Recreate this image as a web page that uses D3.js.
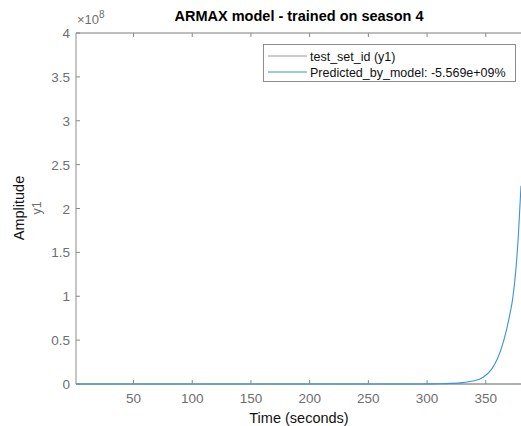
<!DOCTYPE html>
<html><head><meta charset="utf-8">
<script src="https://cdn.jsdelivr.net/npm/d3@7"></script>
<style>body{margin:0;background:#fff}svg{display:block}text{font-family:"Liberation Sans",Arial,sans-serif}</style>
</head><body>
<svg id="c" width="521" height="426"></svg>
<script>
const times = [1, 50, 100, 150, 200, 250, 300, 310, 320, 330, 335, 340, 345, 350, 355, 360, 365, 370, 373, 376, 378, 380];
const predicted = [0, 0, 0, 0, 0, 0, 0.001, 0.003, 0.007, 0.016, 0.025, 0.038, 0.058, 0.1, 0.17, 0.29, 0.48, 0.76, 0.98, 1.36, 1.75, 2.26]; // x 1e8
const measured = [0, 0, 0, 0, 0, 0, 0, 0, 0, 0, 0, 0, 0, 0, 0, 0, 0, 0, 0, 0, 0, 0];
const xTicks = [50, 100, 150, 200, 250, 300, 350];
const yTicks = [0, 0.5, 1, 1.5, 2, 2.5, 3, 3.5, 4];
const legendLabels = ["test_set_id (y1)", "Predicted_by_model: -5.569e+09%"];

const svg = d3.select("#c");
const L = 76, R = 521, T = 33, B = 384;
const x = d3.scaleLinear().domain([1, 380]).range([L, R]);
const y = d3.scaleLinear().domain([0, 4]).range([B, T]);
const axisCol = "#a8a8a8", tickText = "#6e6e6e";

svg.append("line").attr("x1", L).attr("x2", R + 2).attr("y1", B).attr("y2", B).attr("stroke", axisCol).attr("stroke-width", 1.3);
svg.append("line").attr("x1", L).attr("x2", R + 2).attr("y1", T).attr("y2", T).attr("stroke", axisCol).attr("stroke-width", 1.3);
svg.append("line").attr("x1", L).attr("x2", L).attr("y1", T).attr("y2", B).attr("stroke", axisCol).attr("stroke-width", 1.3);

xTicks.forEach(t => {
  svg.append("line").attr("x1", x(t)).attr("x2", x(t)).attr("y1", B).attr("y2", B - 4).attr("stroke", "#888").attr("stroke-width", 1);
  svg.append("line").attr("x1", x(t)).attr("x2", x(t)).attr("y1", T).attr("y2", T + 4).attr("stroke", "#888").attr("stroke-width", 1);
  svg.append("text").attr("x", x(t)).attr("y", 403).attr("text-anchor", "middle").attr("font-size", 13.5).attr("fill", tickText).text(t);
});
yTicks.forEach(v => {
  svg.append("line").attr("x1", L).attr("x2", L + 4).attr("y1", y(v)).attr("y2", y(v)).attr("stroke", "#888").attr("stroke-width", 1);
  svg.append("text").attr("x", 70).attr("y", y(v) + 5).attr("text-anchor", "end").attr("font-size", 13.5).attr("fill", tickText).text(v);
});
const ex = svg.append("text").attr("x", 77).attr("y", 24).attr("font-size", 13).attr("fill", tickText);
ex.append("tspan").text("\u00d710");
ex.append("tspan").attr("dy", -6).attr("font-size", 10).text("8");

const line = d3.line().x((d, i) => x(times[i])).y(d => y(d)).curve(d3.curveMonotoneX);
svg.append("path").datum(measured).attr("d", line).attr("fill", "none").attr("stroke", "#999").attr("stroke-width", 0.8);
svg.append("path").datum(predicted).attr("d", line).attr("fill", "none").attr("stroke", "#3a93d8").attr("stroke-width", 1.1);

svg.append("text").attr("x", 299).attr("y", 21).attr("text-anchor", "middle").attr("font-size", 14.5).attr("font-weight", "bold").attr("fill", "#000").text("ARMAX model - trained on season 4");
svg.append("text").attr("x", 299).attr("y", 423).attr("text-anchor", "middle").attr("font-size", 14.5).attr("fill", "#111").text("Time (seconds)");
svg.append("text").attr("transform", "translate(24,208) rotate(-90)").attr("text-anchor", "middle").attr("font-size", 14.5).attr("fill", "#111").text("Amplitude");
svg.append("text").attr("transform", "translate(41,208) rotate(-90)").attr("text-anchor", "middle").attr("font-size", 12.5).attr("fill", tickText).text("y1");

const lg = svg.append("g");
lg.append("rect").attr("x", 263.5).attr("y", 44.5).attr("width", 252).attr("height", 37).attr("fill", "#fff").attr("stroke", "#8c8c8c").attr("stroke-width", 1);
const legCols = ["#999", "#3a93d8"];
legendLabels.forEach((lab, i) => {
  const yy = 56 + i * 16;
  lg.append("line").attr("x1", 268).attr("x2", 307).attr("y1", yy).attr("y2", yy).attr("stroke", legCols[i]).attr("stroke-width", 1);
  lg.append("text").attr("x", 310).attr("y", yy + 4.5).attr("font-size", 12.5).attr("fill", "#111").text(lab);
});
</script>
</body></html>
